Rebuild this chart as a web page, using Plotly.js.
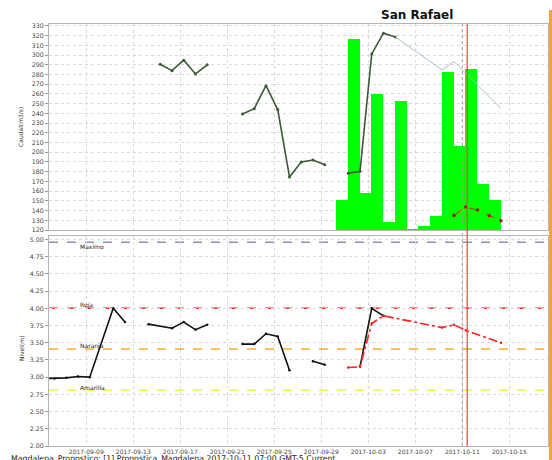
<!DOCTYPE html>
<html>
<head>
<meta charset="utf-8">
<script src="https://cdn.plot.ly/plotly-3.0.1.min.js"></script>
<style>
html,body{margin:0;padding:0;background:#fff;}
#chart{width:552px;height:460px;}
</style>
</head>
<body>
<div id="chart"></div>
<script>
// ---- Caudal (m3/s), upper panel ----
const caudalObsDates = ['2017-09-15 07:00','2017-09-16 07:00','2017-09-17 07:00','2017-09-18 07:00','2017-09-19 07:00',
  '2017-09-20 07:00',
  '2017-09-22 07:00','2017-09-23 07:00','2017-09-24 07:00','2017-09-25 07:00','2017-09-26 07:00','2017-09-27 07:00','2017-09-28 07:00','2017-09-29 07:00',
  '2017-09-30 07:00',
  '2017-10-01 07:00','2017-10-02 07:00','2017-10-03 07:00','2017-10-04 07:00','2017-10-05 07:00'];
const caudalObsValues = [290.6,284,294.7,280.6,290,
  null,
  239.4,244.9,268.5,243.9,174.6,190,192,187.2,
  null,
  178.4,180.4,301.2,322.5,318.7];

const caudalSimDates = ['2017-10-05 07:00','2017-10-09 07:00','2017-10-10 07:00','2017-10-14 07:00'];
const caudalSimValues = [318.7,284.7,293.3,245.2];

const caudalFcstDates = ['2017-10-10 07:00','2017-10-11 07:00','2017-10-12 07:00','2017-10-13 07:00','2017-10-14 07:00'];
const caudalFcstValues = [135,143.6,140.5,134.7,129.5];

const precipDates = ['2017-09-30 18:00','2017-10-01 18:00','2017-10-02 18:00','2017-10-03 18:00','2017-10-04 18:00','2017-10-05 18:00','2017-10-06 18:00',
  '2017-10-07 18:00','2017-10-08 18:00','2017-10-09 18:00','2017-10-10 18:00','2017-10-11 18:00','2017-10-12 18:00','2017-10-13 18:00'];
const precipValues = [151,317,158,260,128.6,252.5,120.6,124.4,134.7,283,206.5,285.4,167,150.5];

// ---- Nivel (m), lower panel ----
const nivelObsDates = ['2017-09-05 07:00','2017-09-06 07:00','2017-09-07 07:00','2017-09-08 07:00','2017-09-09 07:00','2017-09-11 07:00','2017-09-12 07:00',
  '2017-09-13 07:00',
  '2017-09-14 07:00','2017-09-16 07:00','2017-09-17 07:00','2017-09-18 07:00','2017-09-19 07:00',
  '2017-09-20 07:00',
  '2017-09-22 07:00','2017-09-23 07:00','2017-09-24 07:00','2017-09-25 07:00','2017-09-26 07:00',
  '2017-09-27 07:00',
  '2017-09-28 07:00','2017-09-29 07:00',
  '2017-09-30 07:00',
  '2017-10-02 07:00','2017-10-03 07:00','2017-10-04 07:00'];
const nivelObsValues = [2.98,2.98,2.99,3.01,3.00,4.00,3.80,
  null,
  3.77,3.71,3.80,3.69,3.76,
  null,
  3.48,3.48,3.63,3.59,3.10,
  null,
  3.23,3.18,
  null,
  3.15,4.00,3.89];

const nivelFcstDates = ['2017-10-01 07:00','2017-10-02 07:00','2017-10-03 07:00','2017-10-04 07:00','2017-10-09 07:00','2017-10-10 07:00','2017-10-11 07:00','2017-10-14 07:00'];
const nivelFcstValues = [3.14,3.15,3.78,3.89,3.72,3.76,3.68,3.50];

// thresholds
const thresholdNames = ['Maximo','Roja','Naranja','Amarilla'];
const thresholdValues = [4.96,4.00,3.41,2.81];
const thresholdColors = ['#8f8fb8','#ff2a2a','#ffaa33','#f2f24a'];

const forecastTime = '2017-10-11 10:00';
const currentDay = '2017-10-11 00:00';

const titleText = 'San Rafael';
const caudalLabel = 'Caudal(m3/s)';
const nivelLabel = 'Nivel(m)';
const captionText = 'Magdalena_Pronostico: [1] Pronostica_Magdalena 2017-10-11 07:00 GMT-5 Current';

const DAY = 86400000;

const traces = [
  {type:'bar', x:precipDates, y:precipValues, xaxis:'x2', yaxis:'y2',
   width: precipDates.map(()=>DAY), marker:{color:'#00ff00', line:{width:0}}, hoverinfo:'x+y'},
  {type:'scatter', mode:'lines+markers', x:caudalObsDates, y:caudalObsValues, xaxis:'x2', yaxis:'y2',
   line:{color:'#3b5a33', width:1.6}, marker:{size:3, color:'#3b5a33'}, connectgaps:false},
  {type:'scatter', mode:'lines', x:caudalSimDates, y:caudalSimValues, xaxis:'x2', yaxis:'y2',
   line:{color:'#a9bfcf', width:1}},
  {type:'scatter', mode:'lines+markers', x:caudalFcstDates, y:caudalFcstValues, xaxis:'x2', yaxis:'y2',
   line:{color:'#c03030', width:1, dash:'dash'}, marker:{size:3.5, color:'#a01515'}},
  {type:'scatter', mode:'lines+markers', x:nivelObsDates, y:nivelObsValues, xaxis:'x', yaxis:'y',
   line:{color:'#111111', width:1.6}, marker:{size:2.5, color:'#111111'}, connectgaps:false},
  {type:'scatter', mode:'lines+markers', x:nivelFcstDates, y:nivelFcstValues, xaxis:'x', yaxis:'y',
   line:{color:'#ff2020', width:1.6, dash:'dashdot'}, marker:{size:2.5, color:'#ff2020'}}
];

const shapes = [];
thresholdValues.forEach((v,i)=>{
  shapes.push({type:'line', xref:'paper', yref:'y', x0:0, x1:1, y0:v, y1:v,
    line:{color:thresholdColors[i], width:1.5, dash:'dash'}, layer:'below'});
});
shapes.push({type:'line', xref:'x', yref:'paper', x0:currentDay, x1:currentDay, y0:0, y1:1,
  line:{color:'#a0a0a0', width:1, dash:'dot'}});
shapes.push({type:'line', xref:'x', yref:'paper', x0:forecastTime, x1:forecastTime, y0:0, y1:1,
  line:{color:'#ff3a3a', width:1.2}});
shapes.push({type:'rect', xref:'paper', yref:'paper', x0:1.002, x1:1.012, y0:-0.04, y1:1.0332,
  fillcolor:'#f6a04c', line:{width:0}});

const annotations = [
  {text:'<b>'+titleText+'</b>', xref:'paper', yref:'paper', x:0.7375, y:1.0213, showarrow:false,
   xanchor:'center', yanchor:'middle', font:{family:'DejaVu Sans', size:12, color:'#111'}},
  {text:caudalLabel, xref:'paper', yref:'paper', x:-0.0561, y:0.756, textangle:-90, showarrow:false,
   xanchor:'center', yanchor:'middle', font:{family:'DejaVu Sans', size:6, color:'#333'}},
  {text:nivelLabel, xref:'paper', yref:'paper', x:-0.0561, y:0.232, textangle:-90, showarrow:false,
   xanchor:'center', yanchor:'middle', font:{family:'DejaVu Sans', size:6, color:'#333'}},
  {text:captionText, xref:'paper', yref:'paper', x:-0.078, y:-0.0166, showarrow:false, borderpad:0,
   xanchor:'left', yanchor:'top', font:{family:'DejaVu Sans', size:7.8, color:'#222'}}
];
thresholdNames.forEach((n,i)=>{
  annotations.push({text:n, xref:'paper', yref:'y', x:0.058, y:thresholdValues[i], showarrow:false,
    xanchor:'left', yanchor:(i===0?'top':'bottom'), yshift:(i===0?1:-3),
    font:{family:'DejaVu Sans', size:6, color:'#222'}});
});

const gridCommon = {showgrid:true, gridcolor:'#d9d9d9', griddash:'dot', gridwidth:1,
  showline:true, linecolor:'#b5b5b5', linewidth:1, mirror:true, zeroline:false,
  ticks:'outside', ticklen:3, tickcolor:'#999', tickfont:{family:'DejaVu Sans', size:6.3, color:'#444'}};

const xRange = ['2017-09-05 19:50','2017-10-18 07:00'];

const layout = {
  width:552, height:460,
  margin:{l:49, r:4, t:24, b:14, pad:0},
  paper_bgcolor:'#ffffff', plot_bgcolor:'#ffffff',
  showlegend:false, bargap:0,
  font:{family:'DejaVu Sans', size:6.3, color:'#444'},
  xaxis:Object.assign({}, gridCommon, {domain:[0,1], anchor:'y', type:'date', range:xRange,
    tick0:'2017-09-09', dtick:4*DAY, tickformat:'%Y-%m-%d', ticks:'', ticklen:0, ticklabelstandoff:0,
    tickfont:{family:'DejaVu Sans', size:6, color:'#444'}}),
  xaxis2:Object.assign({}, gridCommon, {domain:[0,1], anchor:'y2', type:'date', range:xRange, matches:'x',
    tick0:'2017-09-09', dtick:4*DAY, showticklabels:false, ticks:''}),
  yaxis:Object.assign({}, gridCommon, {domain:[0,0.4976], anchor:'x', range:[2,5.05], tick0:2, dtick:0.25, tickformat:'.2f'}),
  yaxis2:Object.assign({}, gridCommon, {domain:[0.5118,1], anchor:'x2', range:[120,332], tick0:120, dtick:10}),
  shapes:shapes,
  annotations:annotations
};

Plotly.newPlot('chart', traces, layout, {staticPlot:true, displayModeBar:false});
</script>
</body>
</html>
